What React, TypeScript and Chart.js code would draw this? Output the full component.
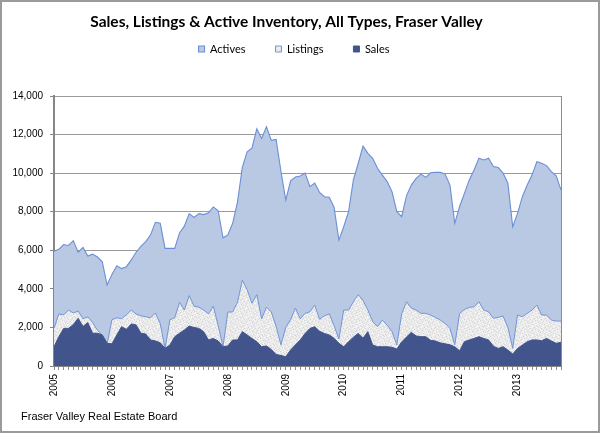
import React, { useEffect, useRef } from 'react';
import { Chart, registerables } from 'chart.js';

Chart.register(...registerables);

// ---------- data ----------
const years = ['2005', '2006', '2007', '2008', '2009', '2010', '2011', '2012', '2013'];
const months = ['Jan', 'Feb', 'Mar', 'Apr', 'May', 'Jun', 'Jul', 'Aug', 'Sep', 'Oct', 'Nov', 'Dec'];

const actives = [
  5950, 6050, 6300, 6250, 6500, 5900, 6150, 5700, 5800, 5650, 5400, 4200,
  4750, 5200, 5050, 5150, 5500, 5900, 6200, 6450, 6800, 7450, 7400, 6100,
  6100, 6100, 6900, 7250, 7900, 7700, 7900, 7850, 7950, 8250, 8050, 6650,
  6800, 7400, 8500, 10300, 11100, 11300, 12300, 11800, 12400, 11700, 11750, 10100,
  8600, 9600, 9800, 9850, 10000, 9300, 9480, 9000, 8780, 8750, 8230, 6530,
  7220, 8000, 9650, 10500, 11400, 11030, 10770, 10250, 9900, 9560, 9040, 8000,
  7740, 8820, 9380, 9730, 9950, 9780, 10020, 10040, 10040, 9950, 9380, 7400,
  8270, 8950, 9650, 10160, 10770, 10680, 10770, 10340, 10290, 10000, 9480, 7220,
  7910, 8780, 9380, 9900, 10590, 10510, 10390, 10080, 9860, 9130,
];

const listings = [
  1950, 2700, 2650, 2900, 2750, 2850, 2450, 2550, 2250, 1850, 1600, 1150,
  2400, 2500, 2450, 2650, 2900, 2700, 2600, 2550, 2500, 2750, 2200, 900,
  2400, 2500, 3300, 2900, 3650, 3100, 3050, 2900, 2700, 3100, 2100, 1000,
  2800, 2800, 3300, 4450, 3950, 3250, 3700, 2450, 3050, 2800, 2050, 1100,
  2000, 2400, 3000, 2450, 2730, 2810, 3160, 2420, 2600, 2700, 2100, 1400,
  2900, 2900, 3330, 3700, 3400, 2900, 2300, 2040, 2380, 2120, 1780, 1090,
  2700, 3330, 3000, 2900, 2730, 2730, 2640, 2520, 2380, 2210, 1950, 1090,
  2730, 2930, 3040, 3070, 3330, 2900, 2810, 2470, 2520, 2590, 2000, 910,
  2640, 2550, 2730, 2900, 3160, 2640, 2640, 2380, 2330, 2330,
];

const sales = [
  1000, 1520, 1950, 1950, 2150, 2470, 2050, 2250, 1700, 1700, 1610, 1180,
  1150, 1610, 2040, 1900, 2180, 2130, 1700, 1660, 1350, 1300, 1210, 920,
  1090, 1520, 1700, 1870, 2070, 2000, 1950, 1780, 1350, 1430, 1300, 1000,
  1040, 1350, 1350, 1780, 1610, 1430, 1260, 1000, 1040, 860, 600, 550,
  480, 830, 1100, 1350, 1690, 1950, 2040, 1800, 1690, 1610, 1440, 1180,
  1000, 1260, 1490, 1690, 1440, 1780, 1090, 1000, 1000, 1000, 970, 880,
  1250, 1500, 1745, 1555, 1520, 1520, 1330, 1300, 1200, 1150, 1100, 1000,
  790, 1260, 1350, 1430, 1520, 1430, 1350, 1030, 910, 1000, 825, 620,
  910, 1090, 1260, 1350, 1350, 1310, 1430, 1300, 1175, 1230,
];

const seriesNames = ['Actives', 'Listings', 'Sales'];
const yMin = 0;
const yMax = 14000;
const yStep = 2000;
const titleText = 'Sales, Listings & Active Inventory, All Types, Fraser Valley';
const footerText = 'Fraser Valley Real Estate Board';

const labels: string[] = actives.map((_, i) => `${months[i % 12]} ${years[Math.floor(i / 12)]}`);

// ---------- styling helpers ----------
function makeSpeckle(): CanvasPattern | string {
  const c = document.createElement('canvas');
  c.width = 11;
  c.height = 9;
  const g = c.getContext('2d');
  if (!g) return '#E6E6E6';
  g.fillStyle = '#EBEBEB';
  g.fillRect(0, 0, 11, 9);
  const dark = [[0, 1], [5, 0], [9, 2], [2, 4], [7, 5], [10, 7], [4, 6], [1, 8], [6, 3]];
  const mid = [[3, 0], [8, 1], [1, 2], [5, 4], [9, 5], [3, 7], [7, 8], [0, 6], [10, 3]];
  const light = [[1, 0], [7, 0], [4, 1], [10, 1], [3, 3], [8, 3], [0, 4], [6, 5], [2, 6], [8, 6], [5, 8], [9, 8], [4, 2], [6, 7]];
  g.fillStyle = '#D2D2D2';
  dark.forEach(([x, y]) => g.fillRect(x, y, 1, 1));
  g.fillStyle = '#DEDEDE';
  mid.forEach(([x, y]) => g.fillRect(x, y, 1, 1));
  g.fillStyle = '#F8F8F8';
  light.forEach(([x, y]) => g.fillRect(x, y, 1, 1));
  return g.createPattern(c, 'repeat') || '#E6E6E6';
}

const LEGEND_EXTRA = 31.5;
const LEGEND_SHIFT = 7.5;

const legendSpacer = {
  id: 'legendSpacer',
  beforeLayout(chart: any) {
    const lg = chart.legend;
    if (lg && !lg.__spaced) {
      const orig = lg.fit.bind(lg);
      lg.fit = function () {
        orig();
        this.height += LEGEND_EXTRA;
        if (Array.isArray(this.lineWidths)) {
          this.lineWidths = this.lineWidths.map((w: number) => w - 2 * LEGEND_SHIFT);
        }
      };
      lg.__spaced = true;
    }
  },
};

const framePlugin = {
  id: 'frame',
  beforeDraw(chart: any) {
    const { ctx, width, height } = chart;
    ctx.save();
    ctx.fillStyle = '#FFFFFF';
    ctx.fillRect(0, 0, width, height);
    ctx.restore();
  },
  afterDraw(chart: any) {
    const { ctx, width, height, chartArea } = chart;
    ctx.save();
    ctx.strokeStyle = '#8C8C8C';
    ctx.lineWidth = 1;
    ctx.beginPath();
    ctx.moveTo(Math.round(chartArea.right) + 0.5, chartArea.top);
    ctx.lineTo(Math.round(chartArea.right) + 0.5, chartArea.bottom);
    ctx.stroke();
    ctx.fillStyle = '#000000';
    ctx.font = '11px "Liberation Sans", Arial, sans-serif';
    ctx.textAlign = 'left';
    ctx.textBaseline = 'middle';
    ctx.fillText(footerText, 21, 417);
    ctx.strokeStyle = '#9A9A9A';
    ctx.lineWidth = 2;
    ctx.strokeRect(1, 1, width - 2, height - 2);
    ctx.restore();
  },
};

export default function App() {
  const ref = useRef<HTMLCanvasElement | null>(null);

  useEffect(() => {
    if (!ref.current) return;
    const speckle = makeSpeckle();
    const chart = new Chart(ref.current, {
      type: 'line',
      data: {
        labels,
        datasets: [
          {
            label: seriesNames[0],
            data: actives,
            fill: 'origin',
            backgroundColor: '#B9C8E3',
            borderColor: '#6B8FD4',
            borderWidth: 1.1,
            pointRadius: 0,
            tension: 0,
            order: 3,
          },
          {
            label: seriesNames[1],
            data: listings,
            fill: 'origin',
            backgroundColor: speckle as any,
            borderColor: '#7395D6',
            borderWidth: 1,
            pointRadius: 0,
            tension: 0,
            order: 2,
          },
          {
            label: seriesNames[2],
            data: sales,
            fill: 'origin',
            backgroundColor: '#42548C',
            borderColor: '#42548C',
            borderWidth: 1,
            pointRadius: 0,
            tension: 0,
            order: 1,
          },
        ],
      },
      options: {
        responsive: false,
        animation: false,
        devicePixelRatio: 1,
        layout: { padding: { left: 12, right: 39, top: 0, bottom: 22.6 } },
        plugins: {
          title: {
            display: true,
            text: titleText,
            color: '#000000',
            font: { family: 'Lato', size: 15.5, weight: 'bold' },
            padding: { top: 12.7, bottom: -17.8 },
          },
          legend: {
            display: true,
            position: 'top',
            labels: {
              boxWidth: 6,
              boxHeight: 6,
              padding: 30,
              color: '#000000',
              font: { family: 'Lato', size: 11 },
              sort: (a: any, b: any) => a.datasetIndex - b.datasetIndex,
            },
          },
          tooltip: { enabled: false },
        },
        scales: {
          x: {
            type: 'category',
            offset: false,
            afterFit: (scale: any) => {
              scale.height = 44.4;
            },
            grid: {
              drawOnChartArea: false,
              drawTicks: true,
              tickLength: 4,
              color: '#8C8C8C',
            },
            border: { display: true, color: '#868686', width: 2 },
            ticks: {
              autoSkip: false,
              maxRotation: 90,
              minRotation: 90,
              padding: 4,
              color: '#000000',
              font: { family: 'Liberation Sans', size: 10 },
              callback: (_v: any, index: number) => (index % 12 === 0 ? years[index / 12] : ''),
            },
          },
          y: {
            min: yMin,
            max: yMax,
            afterFit: (scale: any) => {
              scale.width = 42;
            },
            grid: {
              color: '#9A9A9A',
              lineWidth: 1,
              drawTicks: true,
              tickLength: 4,
              tickColor: '#868686',
            },
            border: { display: true, color: '#868686', width: 2 },
            ticks: {
              stepSize: yStep,
              padding: 7,
              color: '#000000',
              font: { family: 'Liberation Sans', size: 10 },
              callback: (v: any) => Number(v).toLocaleString('en-US'),
            },
          },
        },
      },
      plugins: [legendSpacer, framePlugin],
    } as any);
    return () => chart.destroy();
  }, []);

  return (
    <div style={{ position: 'absolute', left: 0, top: 0, width: 600, height: 433, background: '#fff' }}>
      <canvas ref={ref} width={600} height={433} style={{ display: 'block' }} />
    </div>
  );
}
